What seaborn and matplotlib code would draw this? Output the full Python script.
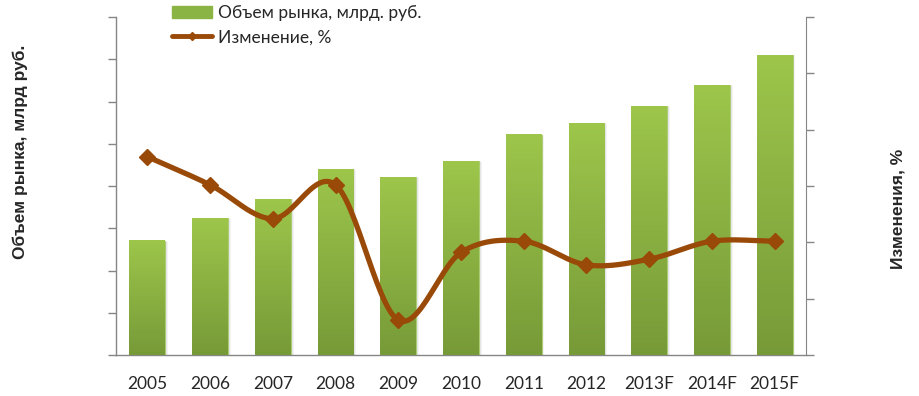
import numpy as np
import pandas as pd
import seaborn as sns
import matplotlib.pyplot as plt
from matplotlib.lines import Line2D
from matplotlib.patches import Patch

sns.set_style("white")
plt.rcParams['font.family'] = ['Lato', 'DejaVu Sans']

# Data
years = ["2005", "2006", "2007", "2008", "2009", "2010",
         "2011", "2012", "2013F", "2014F", "2015F"]
market = [27.0, 32.4, 36.9, 44.0, 42.1, 45.9, 52.1, 54.9, 58.9, 63.9, 71.0]
change = [17.6, 15.1, 12.1, 15.1, 3.1, 9.1, 10.1, 8.0, 8.5, 10.1, 10.1]

df = pd.DataFrame({"Год": years, "Объем": market, "Изменение": change})

bar_top = "#9dc64b"
bar_bot = "#779a38"
line_col = "#994a08"
axis_col = "#868686"

fig = plt.figure(figsize=(9.19, 3.96), dpi=100)
ax = fig.add_axes([116 / 919, 41 / 396, 690 / 919, 338 / 396])

sns.barplot(data=df, x="Год", y="Объем", color=bar_top, width=0.57,
            ax=ax, zorder=2)

# gradient fill + soft shadow for each bar
grad = np.linspace(0, 1, 256).reshape(-1, 1)
cmap = sns.blend_palette([bar_top, bar_bot], as_cmap=True)
for p in ax.patches:
    x0, w, h = p.get_x(), p.get_width(), p.get_height()
    p.set_edgecolor("#a8cc6a")
    p.set_linewidth(0.6)
    ax.bar(x0 + w / 2 + 0.03, h, width=w, color="#000000", alpha=0.10,
           zorder=1)
    ax.imshow(grad, extent=[x0, x0 + w, 0, h], aspect="auto", cmap=cmap,
              zorder=3, interpolation="bilinear")

ax.set_xlim(-0.5, len(years) - 0.5)
ax.set_ylim(0, 80)
ax.set_yticks(np.arange(0, 81, 10))
ax.set_yticklabels([])
ax.set_xlabel("")
ax.set_ylabel("")
ax.set_xticks(np.arange(-0.5, len(years), 1), minor=True)
ax.tick_params(axis="x", which="major", length=0, labelsize=12.5, pad=15)
ax.tick_params(axis="x", which="minor", length=6, color=axis_col, width=1)
ax.tick_params(axis="y", length=6, color=axis_col, width=1, left=True)
for s in ["top", "right"]:
    ax.spines[s].set_visible(False)
for s in ["left", "bottom"]:
    ax.spines[s].set_color(axis_col)
    ax.spines[s].set_linewidth(1)

# secondary axis with smoothed line
ax2 = ax.twinx()
ax2.set_ylim(0, 30)
ax2.set_yticks(np.arange(0, 31, 5))
ax2.set_yticklabels([])
ax2.tick_params(axis="y", length=6, color=axis_col, width=1, right=True)
for s in ["top", "left", "bottom"]:
    ax2.spines[s].set_visible(False)
ax2.spines["right"].set_color(axis_col)

xs = np.arange(len(years), dtype=float)
ys = np.array(change, dtype=float)
px = np.concatenate([[2 * xs[0] - xs[1]], xs, [2 * xs[-1] - xs[-2]]])
py = np.concatenate([[2 * ys[0] - ys[1]], ys, [2 * ys[-1] - ys[-2]]])
cx, cy = [], []
t = np.linspace(0, 1, 30)
for i in range(1, len(px) - 2):
    p0, p1, p2, p3 = [np.array([px[j], py[j]]) for j in (i - 1, i, i + 1, i + 2)]
    c1 = p1 + (p2 - p0) / 6
    c2 = p2 - (p3 - p1) / 6
    b = ((1 - t) ** 3)[:, None] * p1 + (3 * (1 - t) ** 2 * t)[:, None] * c1 \
        + (3 * (1 - t) * t ** 2)[:, None] * c2 + (t ** 3)[:, None] * p2
    cx.extend(b[:, 0])
    cy.extend(b[:, 1])
ax2.plot(cx, cy, color=line_col, lw=3.8, solid_capstyle="round", zorder=4)
ax2.plot(xs, ys, linestyle="none", marker="D", ms=8.5, color=line_col,
         zorder=5)

handles = [Patch(facecolor="#8ab545", edgecolor="#8ab545"),
           Line2D([], [], color=line_col, lw=3.5, marker="D", ms=4)]
fig.legend(handles, ["Объем рынка, млрд. руб.", "Изменение, %"],
           loc="upper left", bbox_to_anchor=(163 / 919, 1.01), frameon=False,
           fontsize=12.5, handlelength=2.3, handletextpad=0.35,
           labelspacing=0.5, borderaxespad=0.1)

fig.text(20 / 919, 1 - 152 / 396, "Объем рынка, млрд руб.", rotation=90,
         ha="center", va="center", fontsize=12.5, fontweight="bold",
         family="Liberation Sans")
fig.text(898 / 919, 1 - 209 / 396, "Изменения, %", rotation=90,
         ha="center", va="center", fontsize=12.5, fontweight="bold",
         family="Liberation Sans")

fig.savefig("out.png", dpi=100)
